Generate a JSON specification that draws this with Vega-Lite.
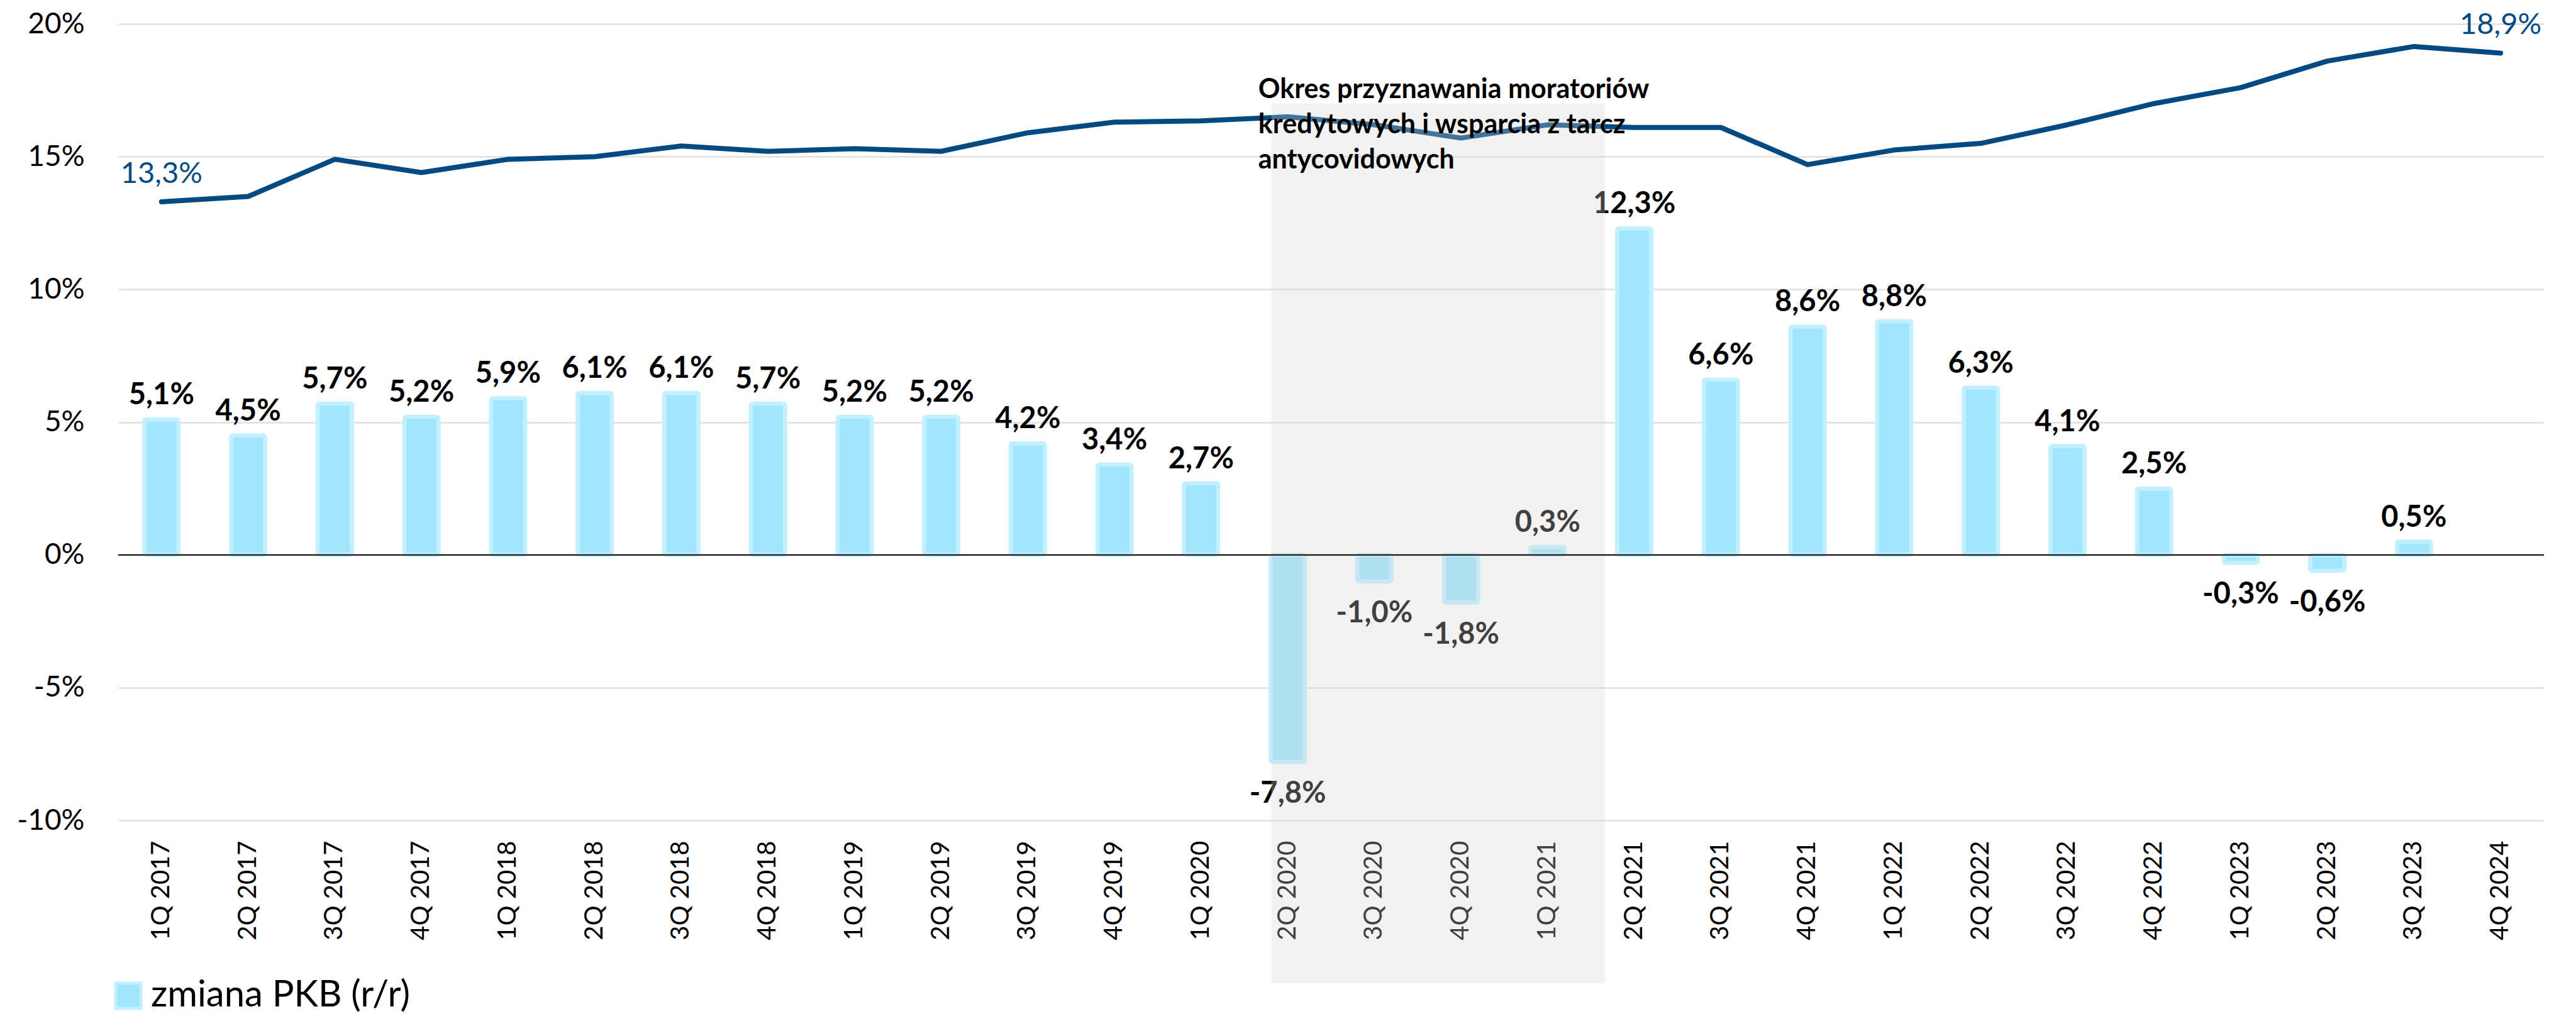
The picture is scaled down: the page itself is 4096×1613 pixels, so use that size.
{
  "$schema": "https://vega.github.io/schema/vega-lite/v6.json",
  "autosize": {"type": "none"},
  "padding": {"left": 188, "top": 38, "right": 51, "bottom": 308},
  "width": 3857,
  "height": 1267,
  "config": {
    "font": "Lato",
    "view": {"stroke": null},
    "locale": {"number": {"decimal": ",", "thousands": " ", "grouping": [3], "currency": ["", " zł"], "minus": "-"}}
  },
  "data": {
    "values": [
      {"q": "1Q 2017", "gdp": 0.051, "ratio": 0.133},
      {"q": "2Q 2017", "gdp": 0.045, "ratio": 0.135},
      {"q": "3Q 2017", "gdp": 0.057, "ratio": 0.149},
      {"q": "4Q 2017", "gdp": 0.052, "ratio": 0.144},
      {"q": "1Q 2018", "gdp": 0.059, "ratio": 0.149},
      {"q": "2Q 2018", "gdp": 0.061, "ratio": 0.150},
      {"q": "3Q 2018", "gdp": 0.061, "ratio": 0.154},
      {"q": "4Q 2018", "gdp": 0.057, "ratio": 0.152},
      {"q": "1Q 2019", "gdp": 0.052, "ratio": 0.153},
      {"q": "2Q 2019", "gdp": 0.052, "ratio": 0.152},
      {"q": "3Q 2019", "gdp": 0.042, "ratio": 0.159},
      {"q": "4Q 2019", "gdp": 0.034, "ratio": 0.163},
      {"q": "1Q 2020", "gdp": 0.027, "ratio": 0.1635},
      {"q": "2Q 2020", "gdp": -0.078, "ratio": 0.165},
      {"q": "3Q 2020", "gdp": -0.010, "ratio": 0.162},
      {"q": "4Q 2020", "gdp": -0.018, "ratio": 0.157},
      {"q": "1Q 2021", "gdp": 0.003, "ratio": 0.162},
      {"q": "2Q 2021", "gdp": 0.123, "ratio": 0.161},
      {"q": "3Q 2021", "gdp": 0.066, "ratio": 0.161},
      {"q": "4Q 2021", "gdp": 0.086, "ratio": 0.147},
      {"q": "1Q 2022", "gdp": 0.088, "ratio": 0.1525},
      {"q": "2Q 2022", "gdp": 0.063, "ratio": 0.155},
      {"q": "3Q 2022", "gdp": 0.041, "ratio": 0.162},
      {"q": "4Q 2022", "gdp": 0.025, "ratio": 0.170},
      {"q": "1Q 2023", "gdp": -0.003, "ratio": 0.176},
      {"q": "2Q 2023", "gdp": -0.006, "ratio": 0.186},
      {"q": "3Q 2023", "gdp": 0.005, "ratio": 0.1915},
      {"q": "4Q 2024", "gdp": null, "ratio": 0.189}
    ]
  },
  "layer": [
    {
      "mark": {"type": "bar", "width": {"band": 0.395}, "stroke": "#C3F0FF", "strokeWidth": 6.5, "cornerRadius": 3},
      "encoding": {
        "x": {
          "field": "q", "type": "nominal", "sort": null,
          "scale": {"paddingInner": 0, "paddingOuter": 0, "domain": ["1Q 2017","2Q 2017","3Q 2017","4Q 2017","1Q 2018","2Q 2018","3Q 2018","4Q 2018","1Q 2019","2Q 2019","3Q 2019","4Q 2019","1Q 2020","2Q 2020","3Q 2020","4Q 2020","1Q 2021","2Q 2021","3Q 2021","4Q 2021","1Q 2022","2Q 2022","3Q 2022","4Q 2022","1Q 2023","2Q 2023","3Q 2023","4Q 2024"]},
          "axis": {"title": null, "labelAngle": -90, "labelAlign": "right", "labelBaseline": "middle", "labelFontSize": 40, "labelColor": "#000000", "labelPadding": 32, "ticks": false, "domain": false, "grid": false, "labelOverlap": false, "labelLimit": 500}
        },
        "y": {
          "field": "gdp", "type": "quantitative",
          "scale": {"domain": [-0.1, 0.2], "nice": false, "zero": false},
          "axis": {"title": null, "values": [-0.1, -0.05, 0, 0.05, 0.1, 0.15, 0.2], "format": ".0%", "labelFontSize": 46, "labelColor": "#000000", "labelPadding": 54, "ticks": false, "domain": false, "grid": true, "gridColor": "#D9D9D9", "gridWidth": 2}
        },
        "color": {
          "datum": "zmiana PKB (r/r)",
          "scale": {"range": ["#A1E6FD"]},
          "legend": {"title": null, "orient": "none", "legendX": -13, "legendY": 1517, "padding": 0, "symbolType": "square", "symbolSize": 1600, "symbolStrokeColor": "#C3F0FF", "symbolStrokeWidth": 5, "labelFontSize": 58, "labelColor": "#000000", "labelOffset": 7, "labelLimit": 800}
        }
      }
    },
    {
      "transform": [{"filter": "datum.gdp != null && datum.gdp >= 0"}],
      "mark": {"type": "text", "fontWeight": "bold", "fontSize": 47, "color": "#000000", "dy": -24, "baseline": "alphabetic"},
      "encoding": {
        "x": {"field": "q", "type": "nominal", "sort": null},
        "y": {"field": "gdp", "type": "quantitative"},
        "text": {"field": "gdp", "type": "quantitative", "format": ".1%"}
      }
    },
    {
      "transform": [{"filter": "datum.gdp != null && datum.gdp < 0"}],
      "mark": {"type": "text", "fontWeight": "bold", "fontSize": 47, "color": "#000000", "dy": 65, "baseline": "alphabetic"},
      "encoding": {
        "x": {"field": "q", "type": "nominal", "sort": null},
        "y": {"field": "gdp", "type": "quantitative"},
        "text": {"field": "gdp", "type": "quantitative", "format": ".1%"}
      }
    },
    {
      "mark": {"type": "line", "color": "#034A83", "strokeWidth": 8, "strokeCap": "round", "strokeJoin": "round"},
      "encoding": {
        "x": {"field": "q", "type": "nominal", "sort": null},
        "y": {"field": "ratio", "type": "quantitative"}
      }
    },
    {
      "transform": [{"filter": "datum.q == '1Q 2017' || datum.q == '4Q 2024'"}],
      "mark": {"type": "text", "fontSize": 47, "color": "#034A83", "dy": -30, "baseline": "alphabetic"},
      "encoding": {
        "x": {"field": "q", "type": "nominal", "sort": null},
        "y": {"field": "ratio", "type": "quantitative"},
        "text": {"field": "ratio", "type": "quantitative", "format": ".1%"}
      }
    },
    {
      "data": {"values": [{"from": "2Q 2020", "to": "2Q 2021", "top": 0.17, "bottom": -0.1613}]},
      "mark": {"type": "rect", "fill": "#D3D3D3", "fillOpacity": 0.3},
      "encoding": {
        "x": {"field": "from", "type": "nominal", "sort": null, "bandPosition": 0.31},
        "x2": {"field": "to", "bandPosition": 0.16},
        "y": {"field": "top", "type": "quantitative"},
        "y2": {"field": "bottom"}
      }
    },
    {
      "data": {"values": [{"v": 0}]},
      "mark": {"type": "rule", "color": "#000000", "strokeWidth": 2},
      "encoding": {"y": {"field": "v", "type": "quantitative"}}
    },
    {
      "data": {"values": [{"q": "2Q 2020", "y": 0.172, "label": "Okres przyznawania moratoriów\nkredytowych i wsparcia z tarcz\nantycovidowych"}]},
      "mark": {"type": "text", "fontWeight": "bold", "fontSize": 43, "color": "#000000", "align": "left", "baseline": "alphabetic", "lineBreak": "\n", "lineHeight": 56},
      "encoding": {
        "x": {"field": "q", "type": "nominal", "sort": null, "bandPosition": 0.16},
        "y": {"field": "y", "type": "quantitative"},
        "text": {"field": "label", "type": "nominal"}
      }
    }
  ]
}
